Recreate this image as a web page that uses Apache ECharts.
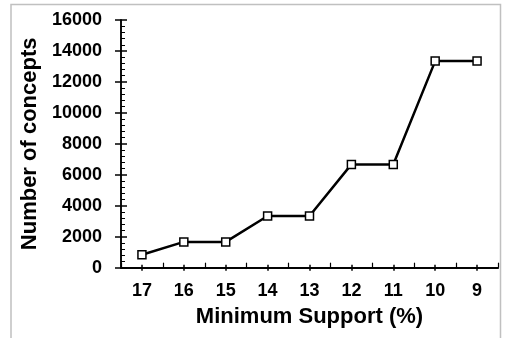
<!DOCTYPE html>
<html>
<head>
<meta charset="utf-8">
<script src="https://cdn.jsdelivr.net/npm/echarts@6/dist/echarts.min.js"></script>
<style>
html,body{margin:0;padding:0;background:#fff;}
#c{width:507px;height:338px;}
</style>
</head>
<body>
<div id="c"></div>
<script>
var categories = ['17','16','15','14','13','12','11','10','9'];
var concepts = [834, 1668, 1668, 3336, 3336, 6672, 6672, 13344, 13344];
var yTickMin = 0, yTickMax = 16000, yTickStep = 2000;

var chart = echarts.init(document.getElementById('c'), null, {renderer:'canvas'});
var fontFam = '"Liberation Sans", Arial, sans-serif';
var axisLine = {show:true, lineStyle:{color:'#000', width:1.5}};
var baseX = {type:'category', data:categories, boundaryGap:true, position:'bottom', offset:0,
  axisLine:axisLine, splitLine:{show:false}};
var baseY = {type:'value', min:yTickMin, max:yTickMax, interval:yTickStep, position:'left', offset:0,
  axisLine:axisLine, splitLine:{show:false}};

chart.setOption({
  animation:false,
  backgroundColor:'#fff',
  graphic:[{type:'rect', shape:{x:11, y:4.5, width:489.5, height:345}, style:{fill:null, stroke:'#c0c0c0', lineWidth:1.5}, silent:true}],
  grid:{left:121, right:9, top:20, bottom:70.3, containLabel:false},
  xAxis:[
    Object.assign({}, baseX, {
      axisTick:{show:true, alignWithLabel:true, inside:false, length:3, lineStyle:{color:'#000', width:1.5}},
      axisLabel:{show:true, margin:14, color:'#000', fontSize:18, fontWeight:'bold', fontFamily:fontFam},
      name:'Minimum Support (%)', nameLocation:'middle', nameGap:38,
      nameTextStyle:{color:'#000', fontSize:22, fontWeight:'bold', fontFamily:fontFam}
    }),
    Object.assign({}, baseX, {
      axisTick:{show:true, alignWithLabel:true, inside:true, length:3, lineStyle:{color:'#000', width:1.5}},
      axisLabel:{show:false}
    }),
    Object.assign({}, baseX, {
      axisTick:{show:true, alignWithLabel:false, inside:true, length:5, lineStyle:{color:'#000', width:1.2}},
      axisLabel:{show:false}
    })
  ],
  yAxis:[
    Object.assign({}, baseY, {
      axisTick:{show:true, inside:true, length:6, lineStyle:{color:'#000', width:1.5}},
      minorTick:{show:true, splitNumber:5, length:4, lineStyle:{color:'#000', width:1}},
      axisLabel:{show:true, margin:19, color:'#000', fontSize:18, fontWeight:'bold', fontFamily:fontFam,
        formatter:function(v){return String(v);}},
      name:'Number of concepts', nameLocation:'middle', nameGap:67, nameRotate:90,
      nameTextStyle:{color:'#000', fontSize:22, fontWeight:'bold', fontFamily:fontFam}
    }),
    Object.assign({}, baseY, {
      axisTick:{show:true, inside:false, length:6, lineStyle:{color:'#000', width:1.5}},
      axisLabel:{show:false}
    })
  ],
  series:[{
    type:'line', data:concepts, xAxisIndex:0, yAxisIndex:0,
    symbol:'rect', symbolSize:8,
    lineStyle:{color:'#000', width:2.5},
    itemStyle:{color:'#fff', borderColor:'#000', borderWidth:1.5},
    z:5
  }]
});
</script>
</body>
</html>
